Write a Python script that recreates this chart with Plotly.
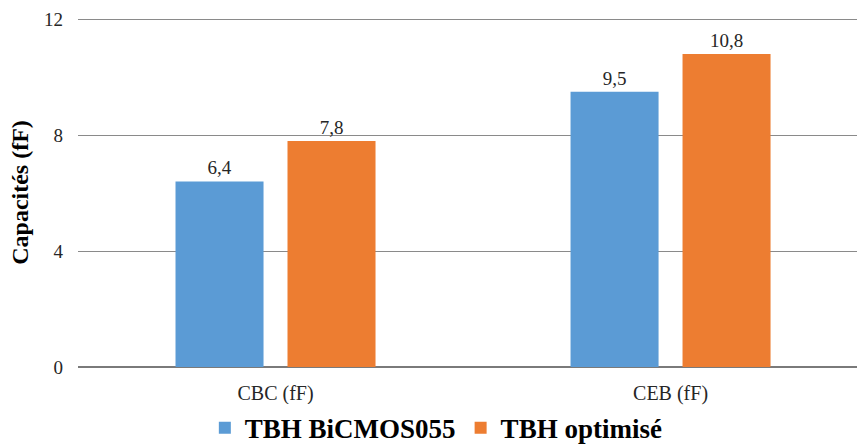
import plotly.graph_objects as go

categories = ["CBC (fF)", "CEB (fF)"]
series_names = ["TBH BiCMOS055", "TBH optimisé"]
bicmos_values = [6.4, 9.5]
optimise_values = [7.8, 10.8]
y_ticks = [0, 4, 8, 12]
colors = ["#5B9BD5", "#ED7D31"]

FONT = "'Liberation Serif', 'Times New Roman', serif"

def fmt(v):
    return f"{v:.1f}".replace(".", ",")

fig = go.Figure()
for name, vals, col in zip(series_names, [bicmos_values, optimise_values], colors):
    fig.add_trace(go.Bar(
        x=[0, 1], y=vals, name=name,
        marker=dict(color=col, line=dict(width=0)),
        text=[fmt(v) for v in vals], textposition="outside",
        textfont=dict(family=FONT, size=19, color="#262626"),
        cliponaxis=False,
    ))

fig.update_layout(
    width=857, height=446,
    margin=dict(l=78, r=0, t=18, b=79, autoexpand=False),
    paper_bgcolor="white", plot_bgcolor="white",
    barmode="group", bargap=0.433, bargroupgap=0.214,
    font=dict(family=FONT, size=18, color="#262626"),
    showlegend=True,
    legend=dict(orientation="h", x=0.46, xanchor="center", y=-0.175, yanchor="middle",
                font=dict(family=FONT, size=27, color="black", weight="bold"),
                itemwidth=30, tracegroupgap=0),
    xaxis=dict(range=[-0.5, 1.472], tickvals=[0, 1], ticktext=categories,
               showgrid=False, zeroline=False, showline=False, ticks="", automargin=False,
               ticklabelstandoff=12,
               tickfont=dict(family=FONT, size=20, color="#262626")),
    yaxis=dict(range=[0, 12.04], tickvals=y_ticks, showgrid=True, gridcolor="#8a8a8a",
               gridwidth=1, zeroline=True, zerolinecolor="#7a7a7a", zerolinewidth=1.5,
               showline=False, ticks="", ticklabelstandoff=14, automargin=False,
               tickfont=dict(family=FONT, size=19, color="#262626"),
               title=dict(text="Capacités (fF)", standoff=8,
                          font=dict(family=FONT, size=24, color="black", weight="bold"))),
)

post = (
    "document.body.style.margin='0';document.body.style.padding='0';"
    "var s=document.createElement('style');"
    "s.textContent=\"svg text{font-family:'Liberation Serif','Times New Roman',serif !important;}\";"
    "document.head.appendChild(s);"
    "var gd=document.getElementById('{plot_id}');"
    "Plotly.react(gd, gd.data, gd.layout, {displayModeBar:false});"
)
fig.write_html("out.html", config={"displayModeBar": False}, post_script=post)
